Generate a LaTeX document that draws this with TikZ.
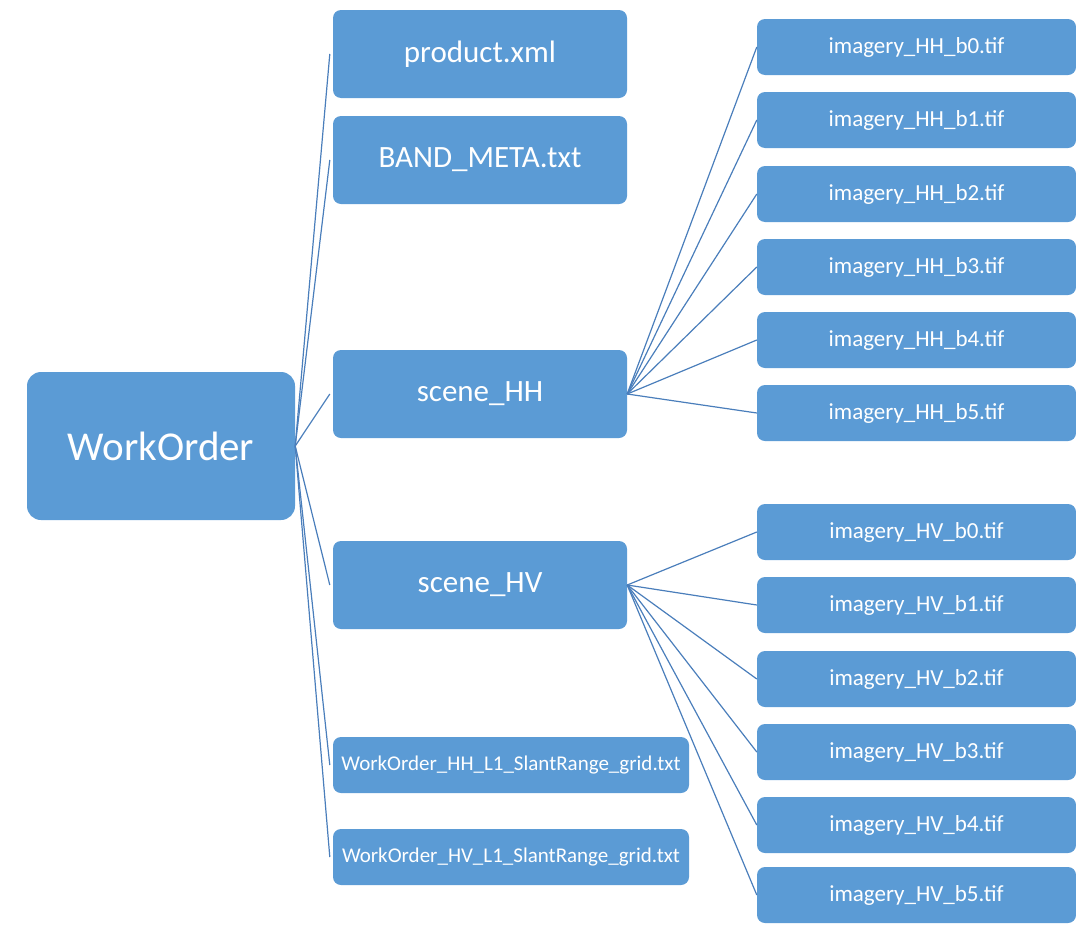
\documentclass[tikz,border=0pt]{standalone}
\usepackage{fontspec}
\setmainfont{Carlito}
\definecolor{boxblue}{HTML}{5B9BD5}
\definecolor{linkblue}{HTML}{4A7EBB}

\begin{document}
\begin{tikzpicture}[x=1pt,y=-1pt,
  filebox/.style={draw=none,fill=boxblue,text=white,rounded corners=8pt,inner sep=0pt,align=center},
  link/.style={draw=linkblue,line width=1.2pt}]
  \useasboundingbox (0,0) rectangle (1076,929);
  % root
  \node[filebox,rounded corners=14pt,minimum width=268pt,minimum height=148pt,font=\fontsize{41}{46}\selectfont] (root) at (161,446) {WorkOrder};
  % first level
  \node[filebox,minimum width=294pt,minimum height=88pt,font=\fontsize{31}{36}\selectfont] (prod) at (480,54) {product.xml};
  \node[filebox,minimum width=294pt,minimum height=88pt,font=\fontsize{31}{36}\selectfont] (bandmeta) at (480,160) {BAND\_META.txt};
  \node[filebox,minimum width=294pt,minimum height=88pt,font=\fontsize{31}{36}\selectfont] (sceneHH) at (480,394) {scene\_HH};
  \node[filebox,minimum width=294pt,minimum height=88pt,font=\fontsize{31}{36}\selectfont] (sceneHV) at (480,585) {scene\_HV};
  \node[filebox,minimum width=356pt,minimum height=56pt,font=\fontsize{21}{25}\selectfont] (gridHH) at (511,765) {WorkOrder\_HH\_L1\_SlantRange\_grid.txt};
  \node[filebox,minimum width=356pt,minimum height=56pt,font=\fontsize{21}{25}\selectfont] (gridHV) at (511,857) {WorkOrder\_HV\_L1\_SlantRange\_grid.txt};
  % HH bands
  \node[filebox,minimum width=319pt,minimum height=56pt,font=\fontsize{23}{27}\selectfont] (hh0) at (916.5,47) {imagery\_HH\_b0.tif};
  \node[filebox,minimum width=319pt,minimum height=56pt,font=\fontsize{23}{27}\selectfont] (hh1) at (916.5,120) {imagery\_HH\_b1.tif};
  \node[filebox,minimum width=319pt,minimum height=56pt,font=\fontsize{23}{27}\selectfont] (hh2) at (916.5,194) {imagery\_HH\_b2.tif};
  \node[filebox,minimum width=319pt,minimum height=56pt,font=\fontsize{23}{27}\selectfont] (hh3) at (916.5,267) {imagery\_HH\_b3.tif};
  \node[filebox,minimum width=319pt,minimum height=56pt,font=\fontsize{23}{27}\selectfont] (hh4) at (916.5,340) {imagery\_HH\_b4.tif};
  \node[filebox,minimum width=319pt,minimum height=56pt,font=\fontsize{23}{27}\selectfont] (hh5) at (916.5,413) {imagery\_HH\_b5.tif};
  % HV bands
  \node[filebox,minimum width=319pt,minimum height=56pt,font=\fontsize{23}{27}\selectfont] (hv0) at (916.5,532) {imagery\_HV\_b0.tif};
  \node[filebox,minimum width=319pt,minimum height=56pt,font=\fontsize{23}{27}\selectfont] (hv1) at (916.5,605) {imagery\_HV\_b1.tif};
  \node[filebox,minimum width=319pt,minimum height=56pt,font=\fontsize{23}{27}\selectfont] (hv2) at (916.5,679) {imagery\_HV\_b2.tif};
  \node[filebox,minimum width=319pt,minimum height=56pt,font=\fontsize{23}{27}\selectfont] (hv3) at (916.5,752) {imagery\_HV\_b3.tif};
  \node[filebox,minimum width=319pt,minimum height=56pt,font=\fontsize{23}{27}\selectfont] (hv4) at (916.5,825) {imagery\_HV\_b4.tif};
  \node[filebox,minimum width=319pt,minimum height=56pt,font=\fontsize{23}{27}\selectfont] (hv5) at (916.5,895) {imagery\_HV\_b5.tif};
  % links
  \draw[link] (root.east) -- ([xshift=-3pt]prod.west);
  \draw[link] (root.east) -- ([xshift=-3pt]bandmeta.west);
  \draw[link] (root.east) -- ([xshift=-3pt]sceneHH.west);
  \draw[link] (root.east) -- ([xshift=-3pt]sceneHV.west);
  \draw[link] (root.east) -- ([xshift=-3pt]gridHH.west);
  \draw[link] (root.east) -- ([xshift=-3pt]gridHV.west);
  \draw[link] (sceneHH.east) -- (hh0.west);
  \draw[link] (sceneHH.east) -- (hh1.west);
  \draw[link] (sceneHH.east) -- (hh2.west);
  \draw[link] (sceneHH.east) -- (hh3.west);
  \draw[link] (sceneHH.east) -- (hh4.west);
  \draw[link] (sceneHH.east) -- (hh5.west);
  \draw[link] (sceneHV.east) -- (hv0.west);
  \draw[link] (sceneHV.east) -- (hv1.west);
  \draw[link] (sceneHV.east) -- (hv2.west);
  \draw[link] (sceneHV.east) -- (hv3.west);
  \draw[link] (sceneHV.east) -- (hv4.west);
  \draw[link] (sceneHV.east) -- (hv5.west);
\end{tikzpicture}
\end{document}
